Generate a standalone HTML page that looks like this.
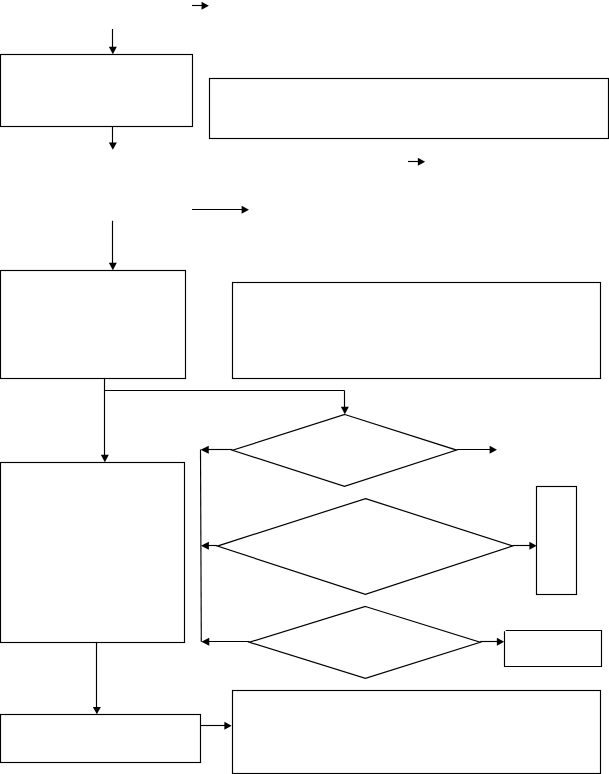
<!DOCTYPE html>
<html><head><meta charset="utf-8"><style>
html,body{margin:0;padding:0;background:#fff;width:609px;height:774px;overflow:hidden;font-family:"Liberation Sans",sans-serif}
svg{display:block}
.h{fill:#000;stroke:none}
.d{stroke-width:1.2}
</style></head><body>
<svg width="609" height="774" viewBox="0 0 609 774">
<g fill="none" stroke="#000" stroke-width="1.15">
<line x1="192" y1="5.5" x2="202.2" y2="5.5"/><polygon class="h" points="208.85,5.85 201.55,9.85 201.55,1.85"/>
<line x1="112.5" y1="29" x2="112.5" y2="47.5"/><polygon class="h" points="112.85,54.15 108.85,46.85 116.85,46.85"/>
<rect x="0.5" y="54.5" width="192.00" height="72.00"/>
<rect x="209.5" y="78.5" width="399.00" height="60.00"/>
<line x1="112.5" y1="126.5" x2="112.5" y2="143.2"/><polygon class="h" points="112.85,149.85 108.85,142.55 116.85,142.55"/>
<line x1="408" y1="161.5" x2="418.5" y2="161.5"/><polygon class="h" points="425.15,161.85 417.85,165.85 417.85,157.85"/>
<line x1="192" y1="209.5" x2="242.3" y2="209.5"/><polygon class="h" points="248.95,209.85 241.65,213.85 241.65,205.85"/>
<line x1="112.5" y1="220.8" x2="112.5" y2="263.5"/><polygon class="h" points="112.85,270.15 108.85,262.85 116.85,262.85"/>
<rect x="0.5" y="270.5" width="185.00" height="108.00"/>
<rect x="232.5" y="282.5" width="368.00" height="96.00"/>
<line x1="104.5" y1="378.5" x2="104.5" y2="455.5"/><polygon class="h" points="104.85,462.15 100.85,454.85 108.85,454.85"/>
<line x1="104.5" y1="390.5" x2="344.5" y2="390.5"/>
<line x1="344.5" y1="390.5" x2="344.5" y2="407.5"/><polygon class="h" points="344.85,414.15 340.85,406.85 348.85,406.85"/>
<polygon class="d" points="344.8,414.5 456.6,450.1 344.5,486.4 232.5,450.3"/>
<line x1="456.6" y1="449.5" x2="490.3" y2="449.5"/><polygon class="h" points="496.95,449.85 489.65,453.85 489.65,445.85"/>
<line x1="232.5" y1="449.5" x2="207.4" y2="449.5"/><polygon class="h" points="200.55,449.85 208.75,445.85 208.75,453.85"/>
<line x1="200.5" y1="449.5" x2="201.3" y2="641.8"/>
<rect x="0.5" y="462.5" width="184.00" height="180.00"/>
<polygon class="d" points="365.6,498.6 512.7,545.9 365.4,594.4 217.4,546.1"/>
<line x1="217.4" y1="545.5" x2="207.5" y2="545.5"/><polygon class="h" points="200.95,545.85 208.85,541.85 208.85,549.85"/>
<line x1="512.7" y1="545.5" x2="530.0" y2="545.5"/><polygon class="h" points="536.65,545.85 529.35,549.85 529.35,541.85"/>
<rect x="536.5" y="486.5" width="40.00" height="108.00"/>
<polygon class="d" points="365.4,606.5 480.2,642.2 365.4,678.4 249.4,642.2"/>
<line x1="249.4" y1="641.5" x2="207.9" y2="641.5"/><polygon class="h" points="201.35,641.85 209.25,637.85 209.25,645.85"/>
<line x1="480.2" y1="641.5" x2="497.5" y2="641.5"/><polygon class="h" points="504.15,641.85 496.85,645.85 496.85,637.85"/>
<path d="M504.5,631.2 V666.5 H601.5 V630.5 H505.8"/>
<line x1="96.5" y1="642.5" x2="96.5" y2="707.6"/><polygon class="h" points="96.85,714.25 92.85,706.95 100.85,706.95"/>
<rect x="0.5" y="714.5" width="200.00" height="48.00"/>
<line x1="200.5" y1="725.5" x2="225.0" y2="725.5"/><polygon class="h" points="231.65,725.85 224.35,729.85 224.35,721.85"/>
<rect x="232.5" y="690.5" width="368.00" height="83.00"/>
</g>
</svg>
</body></html>
